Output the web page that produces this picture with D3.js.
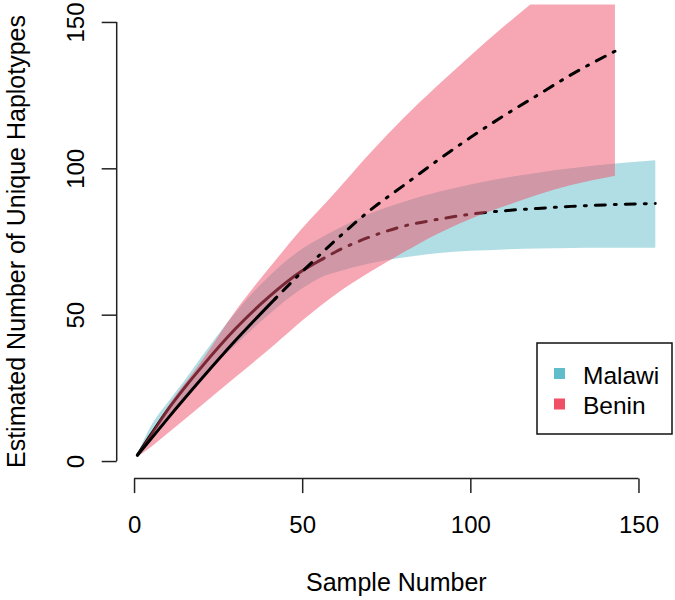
<!DOCTYPE html>
<html>
<head>
<meta charset="utf-8">
<script src="https://cdn.jsdelivr.net/npm/d3@7"></script>
<style>
  html, body { margin: 0; padding: 0; background: #fff; }
  svg { display: block; }
  text { font-family: "Liberation Sans", Arial, sans-serif; fill: #000; }
</style>
</head>
<body>
<div id="chart"></div>
<script>
// ---- Data ----
const seriesNames = ["Malawi", "Benin"];
const seriesColors = ["#61BDC9", "#EF4F67"];

const malawiX     = [1, 5, 10, 15, 20, 30, 40, 50, 56, 60, 70, 80, 90, 100, 110, 120, 130, 140, 155];
const malawiMean  = [2, 9, 17.5, 25, 32, 45, 56, 65, 69, 71.5, 76.5, 80.2, 82.5, 84.3, 85.5, 86.3, 87, 87.5, 88];
const malawiLower = [1.5, 7, 15, 22, 28.5, 39.5, 50, 59, 63, 64.5, 67.5, 69.5, 71, 71.8, 72.3, 72.6, 72.8, 72.9, 72.9];
const malawiUpper = [2.5, 12, 20, 27.5, 35.5, 50.5, 63, 72.5, 76.5, 79, 84.5, 88.5, 91.8, 94.5, 96.7, 98.5, 100, 101.3, 102.8];
const malawiObserved = 56;

const beninX     = [1, 5, 10, 20, 30, 42, 50, 60, 70, 80, 90, 100, 110, 120, 130, 143];
const beninMean  = [2, 7.5, 14.5, 28, 41, 55.5, 64.7, 75.5, 85.5, 94, 102.5, 110.5, 118, 125, 132, 140];
const beninLower = [1.5, 4.8, 9.5, 19, 28.5, 40, 48, 57, 64.5, 71.2, 77.5, 82.7, 87, 91, 94.3, 97.5];
const beninUpper = [2.5, 9.5, 18.5, 34, 51, 68.5, 79.5, 92, 105, 117, 128, 138.5, 148.5, 158, 167, 178];
const beninObserved = 42;

const xTicks = [0, 50, 100, 150];
const yTicks = [0, 50, 100, 150];
const xTitle = "Sample Number";
const yTitle = "Estimated Number of Unique Haplotypes";

// ---- Layout ----
const W = 675, H = 600;
const plotLeft = 116.7, plotRight = 676, plotTop = 4.4, plotBottom = 478.6;
const tickFont = 24, titleFont = 25, legendFont = 24.5;

const svg = d3.select("#chart").append("svg")
  .attr("width", W).attr("height", H);

const x = d3.scaleLinear().domain([-5.16, 161.16]).range([plotLeft, plotRight]);
const y = d3.scaleLinear().domain([-6, 156]).range([plotBottom, plotTop]);

svg.append("defs").append("clipPath").attr("id", "plotclip")
  .append("rect")
  .attr("x", plotLeft).attr("y", plotTop)
  .attr("width", plotRight - plotLeft).attr("height", plotBottom - plotTop);

const plot = svg.append("g").attr("clip-path", "url(#plotclip)");

function rows(xs, mean, lo, hi) {
  return xs.map((v, i) => ({ x: v, m: mean[i], lo: lo[i], hi: hi[i] }));
}
const malawi = rows(malawiX, malawiMean, malawiLower, malawiUpper);
const benin = rows(beninX, beninMean, beninLower, beninUpper);

const area = d3.area()
  .x(d => x(d.x)).y0(d => y(d.lo)).y1(d => y(d.hi))
  .curve(d3.curveMonotoneX);
const line = d3.line()
  .x(d => x(d.x)).y(d => y(d.m))
  .curve(d3.curveMonotoneX);

function drawSeries(data, observed, color) {
  plot.append("path").datum(data)
    .attr("d", area)
    .attr("fill", color).attr("fill-opacity", 0.5).attr("stroke", "none");
  const interp = data.filter(d => d.x <= observed);
  const extrap = data.filter(d => d.x >= observed);
  plot.append("path").datum(interp)
    .attr("d", line)
    .attr("fill", "none").attr("stroke", "#000")
    .attr("stroke-width", 3).attr("stroke-linecap", "round").attr("stroke-linejoin", "round");
  plot.append("path").datum(extrap)
    .attr("d", line)
    .attr("fill", "none").attr("stroke", "#000")
    .attr("stroke-width", 3).attr("stroke-linecap", "round").attr("stroke-linejoin", "round")
    .attr("stroke-dasharray", "2,9,10,9");
}

drawSeries(malawi, malawiObserved, seriesColors[0]);
drawSeries(benin, beninObserved, seriesColors[1]);

// ---- Axes (R style) ----
const axisColor = "#222";
const xAxis = svg.append("g")
  .attr("transform", `translate(0,${plotBottom})`)
  .call(d3.axisBottom(x).tickValues(xTicks).tickFormat(d3.format("d")).tickSize(14.5).tickSizeOuter(0));
xAxis.select(".domain")
  .attr("d", `M${x(xTicks[0])},0H${x(xTicks[xTicks.length - 1])}`)
  .attr("stroke", axisColor).attr("stroke-width", 1.5);
xAxis.selectAll(".tick line").attr("stroke", axisColor).attr("stroke-width", 1.5);
xAxis.selectAll(".tick text")
  .attr("y", 54.5).attr("dy", null)
  .attr("font-size", tickFont)
  .attr("font-family", "Liberation Sans, Arial, sans-serif")
  .attr("fill", "#000");

const yAxis = svg.append("g")
  .attr("transform", `translate(${plotLeft},0)`)
  .call(d3.axisLeft(y).tickValues(yTicks).tickFormat(d3.format("d")).tickSize(15).tickSizeOuter(0));
yAxis.select(".domain")
  .attr("d", `M0,${y(yTicks[0])}V${y(yTicks[yTicks.length - 1])}`)
  .attr("stroke", axisColor).attr("stroke-width", 1.5);
yAxis.selectAll(".tick line").attr("stroke", axisColor).attr("stroke-width", 1.5);
yAxis.selectAll(".tick text")
  .attr("x", 0).attr("y", -33.2).attr("dy", null)
  .attr("transform", "rotate(-90)")
  .attr("text-anchor", "middle")
  .attr("font-size", tickFont)
  .attr("font-family", "Liberation Sans, Arial, sans-serif")
  .attr("fill", "#000");

// ---- Titles ----
svg.append("text")
  .attr("x", (plotLeft + plotRight) / 2).attr("y", 591)
  .attr("text-anchor", "middle").attr("font-size", titleFont)
  .text(xTitle);

svg.append("text")
  .attr("transform", `translate(24.5,${(plotTop + plotBottom) / 2}) rotate(-90)`)
  .attr("text-anchor", "middle").attr("font-size", titleFont)
  .text(yTitle);

// ---- Legend ----
const legend = svg.append("g");
legend.append("rect")
  .attr("x", 537).attr("y", 343).attr("width", 135).attr("height", 91)
  .attr("fill", "#fff").attr("stroke", "#111").attr("stroke-width", 1.5);
seriesNames.forEach((name, i) => {
  legend.append("rect")
    .attr("x", 554).attr("y", 368 + i * 30.5)
    .attr("width", 11).attr("height", 11)
    .attr("fill", seriesColors[i]);
  legend.append("text")
    .attr("x", 583).attr("y", 383.5 + i * 30)
    .attr("font-size", legendFont)
    .text(name);
});
</script>
</body>
</html>
